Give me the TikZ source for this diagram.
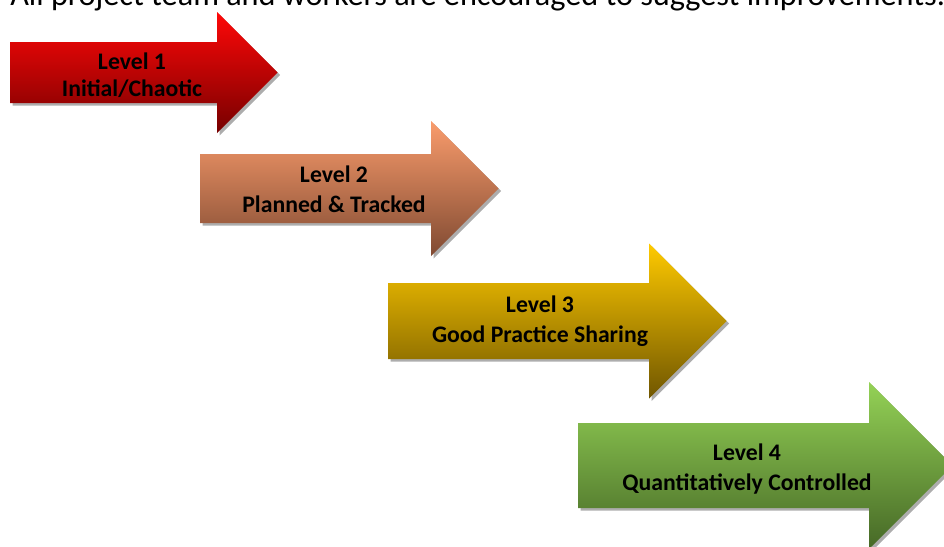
\documentclass[tikz,border=0pt]{standalone}
\usepackage{fontspec}
\setmainfont{Carlito}

\definecolor{redtop}{RGB}{255,8,8}
\definecolor{redbot}{RGB}{118,0,0}
\definecolor{salmontop}{RGB}{250,156,108}
\definecolor{salmonbot}{RGB}{128,74,50}
\definecolor{goldtop}{RGB}{255,202,0}
\definecolor{goldbot}{RGB}{112,86,0}
\definecolor{greentop}{RGB}{148,210,86}
\definecolor{greenbot}{RGB}{70,104,38}

\tikzset{
  lvlshadow/.style={fill=black!32},
  lvltext/.style={font=\fontsize{17.8}{22.5}\selectfont\bfseries, align=center, anchor=base, inner sep=0pt},
  lvl1/.style={top color=redtop, bottom color=redbot},
  lvl2/.style={top color=salmontop, bottom color=salmonbot},
  lvl3/.style={top color=goldtop, bottom color=goldbot},
  lvl4/.style={top color=greentop, bottom color=greenbot},
}

% #1 left x, #2 mid y, #3 shaft length, #4 half shaft, #5 half head, #6 colours
\newcommand\levelarrow[6]{%
  \fill[lvlshadow, shift={(2.5,2.5)}] (#1,{#2-#4}) -- ({#1+#3},{#2-#4}) -- ({#1+#3},{#2-#5})
    -- ({#1+#3+#5},#2) -- ({#1+#3},{#2+#5}) -- ({#1+#3},{#2+#4}) -- (#1,{#2+#4}) -- cycle;
  \shade[#6] (#1,{#2-#4}) -- ({#1+#3},{#2-#4}) -- ({#1+#3},{#2-#5})
    -- ({#1+#3+#5},#2) -- ({#1+#3},{#2+#5}) -- ({#1+#3},{#2+#4}) -- (#1,{#2+#4}) -- cycle;
}

\begin{document}
\begin{tikzpicture}[x=0.75pt, y=-0.75pt]
  \useasboundingbox (0,0) rectangle (944,546);
  \clip (0,0) rectangle (944,546);

  \node[font=\fontsize{24.2}{28}\selectfont, anchor=base west, inner sep=0pt] (note) at (10,6)
    {All project team and workers are encouraged to suggest improvements.};

  \levelarrow{10}{72.5}{207}{30.5}{60.5}{lvl1}
  \levelarrow{200}{188.5}{231}{34.5}{67.5}{lvl2}
  \levelarrow{388}{321}{261}{38}{77.5}{lvl3}
  \levelarrow{578}{465.5}{291}{42.5}{83.5}{lvl4}

  \node[lvltext, font=\fontsize{17.8}{20.25}\selectfont\bfseries] (level1) at (132,96) {Level 1\\Initial/Chaotic};
  \node[lvltext] (level2) at (334,212) {Level 2\\Planned \& Tracked};
  \node[lvltext] (level3) at (540,342) {Level 3\\Good Practice Sharing};
  \node[lvltext] (level4) at (747,490) {Level 4\\Quantitatively Controlled};
\end{tikzpicture}
\end{document}
